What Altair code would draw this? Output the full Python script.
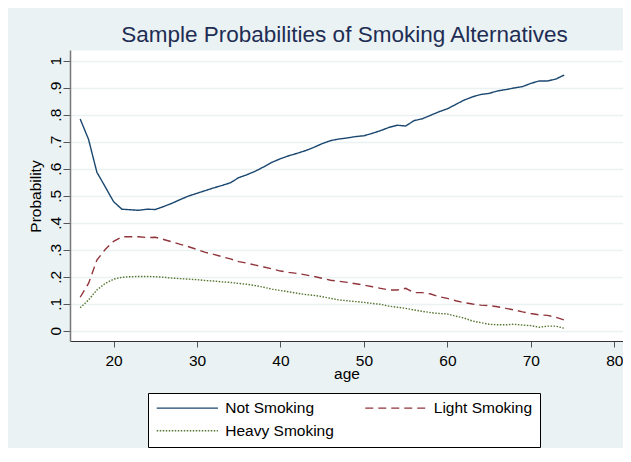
import altair as alt
import pandas as pd

ages = list(range(16, 75))

not_smoking = [0.784, 0.709, 0.587, 0.533, 0.478, 0.450, 0.448, 0.446, 0.450, 0.449,
               0.460, 0.472, 0.486, 0.499, 0.509, 0.519, 0.529, 0.538, 0.548, 0.567,
               0.578, 0.591, 0.607, 0.624, 0.637, 0.648, 0.657, 0.667, 0.679, 0.693,
               0.704, 0.710, 0.714, 0.719, 0.722, 0.731, 0.741, 0.753, 0.761, 0.758,
               0.778, 0.785, 0.798, 0.811, 0.822, 0.838, 0.854, 0.866, 0.875, 0.879,
               0.888, 0.893, 0.899, 0.904, 0.916, 0.925, 0.925, 0.932, 0.947]

light_smoking = [0.124, 0.175, 0.262, 0.301, 0.331, 0.348, 0.348, 0.348, 0.345, 0.346,
                 0.338, 0.329, 0.320, 0.311, 0.301, 0.290, 0.283, 0.274, 0.266, 0.256,
                 0.250, 0.243, 0.236, 0.229, 0.221, 0.216, 0.212, 0.207, 0.201, 0.194,
                 0.187, 0.183, 0.179, 0.174, 0.169, 0.163, 0.157, 0.151, 0.151, 0.157,
                 0.141, 0.141, 0.136, 0.126, 0.120, 0.111, 0.104, 0.099, 0.095, 0.093,
                 0.089, 0.083, 0.077, 0.070, 0.064, 0.059, 0.057, 0.050, 0.040]

heavy_smoking = [0.085, 0.114, 0.151, 0.175, 0.191, 0.198, 0.200, 0.201, 0.201, 0.200,
                 0.198, 0.195, 0.193, 0.191, 0.189, 0.186, 0.184, 0.181, 0.179, 0.175,
                 0.172, 0.167, 0.161, 0.154, 0.149, 0.144, 0.139, 0.134, 0.131, 0.126,
                 0.120, 0.114, 0.111, 0.108, 0.105, 0.101, 0.098, 0.091, 0.087, 0.083,
                 0.077, 0.072, 0.067, 0.064, 0.062, 0.054, 0.047, 0.036, 0.030, 0.024,
                 0.022, 0.022, 0.024, 0.021, 0.019, 0.013, 0.017, 0.017, 0.009]

series_names = ["Not Smoking", "Light Smoking", "Heavy Smoking"]
series_colors = ["#1A476F", "#90353B", "#55752F"]
series_dashes = [[1, 0], [8, 5], [1.5, 1.5]]

x_ticks = [20, 30, 40, 50, 60, 70, 80]
y_ticks = [0, 0.1, 0.2, 0.3, 0.4, 0.5, 0.6, 0.7, 0.8, 0.9, 1.0]

rows = []
for name, vals in zip(series_names, [not_smoking, light_smoking, heavy_smoking]):
    for a, v in zip(ages, vals):
        rows.append({"age": a, "prob": v, "series": name})
df = pd.DataFrame(rows)

FONT = "Liberation Sans"

legend = alt.Legend(
    orient="none", legendX=78, legendY=343, columns=2, direction="horizontal",
    gridAlign="all", fillColor="white", strokeColor="black", padding=7,
    symbolType="M-5.1,0H5.1", symbolSize=144, symbolStrokeWidth=1.4,
    symbolFillColor="transparent", symbolOffset=24.6,
    labelFont=FONT, labelFontSize=15.5, labelColor="black", labelOffset=30.2,
    columnPadding=27.5, rowPadding=6, title=None,
)

chart = alt.Chart(df).mark_line(strokeWidth=1.4, clip=True).encode(
    x=alt.X("age:Q",
            scale=alt.Scale(domain=[14.78, 81.04], nice=False, zero=False),
            axis=alt.Axis(values=x_ticks, title="age", grid=False, tickSize=6,
                          labelPadding=6, labelFontSize=15.5, titleFontSize=15.5,
                          titleFontWeight="normal", titleY=37.5,
                          titleBaseline="alphabetic", labelFlush=False,
                          domainColor="#333333", domainWidth=1.2,
                          tickColor="#555555")),
    y=alt.Y("prob:Q",
            scale=alt.Scale(domain=[-0.038, 1.0396], nice=False, zero=False),
            axis=alt.Axis(values=y_ticks,
                          labelExpr="datum.value == 0 ? '0' : datum.value >= 0.999 ? '1' : replace(format(datum.value, '.1f'), '0.', '.')",
                          title="Probability", labelAngle=270, labelAlign="center",
                          labelBaseline="alphabetic", tickSize=7, labelPadding=3,
                          labelFontSize=15.5, titleFontSize=15.5,
                          titleFontWeight="normal", grid=True,
                          gridColor="#EAF2F3", gridWidth=1.5, titleAngle=270,
                          titleX=-30, titleY=146, titleBaseline="alphabetic",
                          domainColor="#777777", domainWidth=1.5,
                          tickColor="#555555")),
    color=alt.Color("series:N",
                    scale=alt.Scale(domain=series_names, range=series_colors),
                    legend=legend, title=None),
    strokeDash=alt.StrokeDash("series:N",
                              scale=alt.Scale(domain=series_names, range=series_dashes),
                              legend=legend, title=None),
).properties(
    width=553, height=291,
    autosize=alt.AutoSizeParams(type="none"),
    padding={"left": 62, "top": 42, "right": 0, "bottom": 107},
    background="#EAF2F3",
    title=alt.Title("Sample Probabilities of Smoking Alternatives", fontSize=22.5,
                    font=FONT, fontWeight="normal", color="#1E2D53",
                    anchor="middle", baseline="alphabetic", offset=7, dy=21, dx=-2),
).configure_view(
    fill="white", stroke="transparent"
).configure_axis(
    labelFont=FONT, titleFont=FONT, labelColor="black", titleColor="black"
)

chart.save("out.html", embed_options={"renderer": "svg", "actions": False})
